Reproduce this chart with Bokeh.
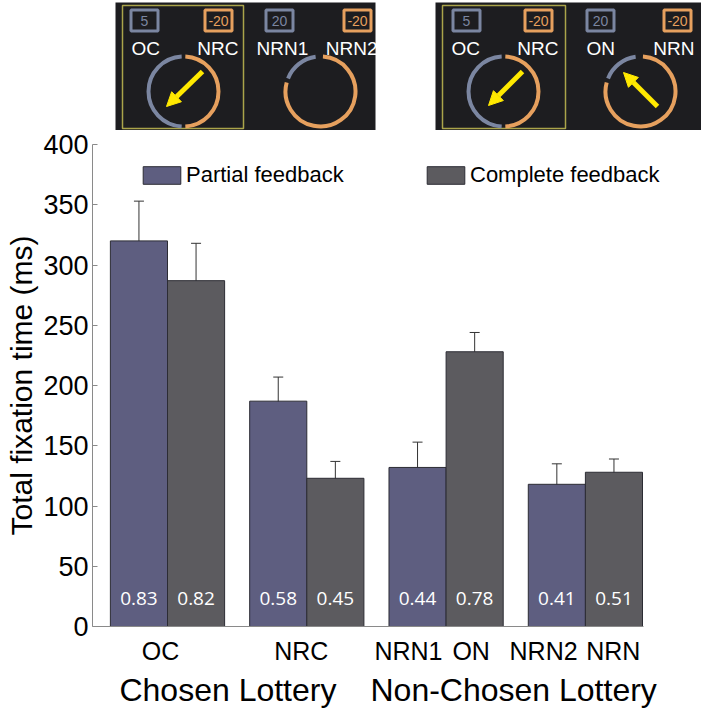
import math
from bokeh.plotting import figure
from bokeh.models import (Range1d, FixedTicker, Legend, LegendItem, LinearAxis,
                          Whisker, ColumnDataSource, Arrow, NormalHead, TeeHead)
from bokeh.layouts import column
from bokeh.embed import file_html
from bokeh.resources import INLINE
from bokeh.core.properties import value

# ---------------- data ----------------
groups = [1, 2, 3, 4]
partial = [320, 187, 132, 118]
partial_err = [33, 20, 21, 17]
complete = [287, 123, 228, 128]
complete_err = [31, 14, 16, 11]
partial_props = ["0.83", "0.58", "0.44", "0.41"]
complete_props = ["0.82", "0.45", "0.78", "0.51"]
tick_labels = ["OC", "NRC", "NRN1", "ON", "NRN2", "NRN"]
group_labels = ["Chosen Lottery", "Non-Chosen Lottery"]
series_names = ["Partial feedback", "Complete feedback"]
y_ticks = [0, 50, 100, 150, 200, 250, 300, 350, 400]

# ---------------- styles ----------------
FONT = "Liberation Sans"
C_PART = "#5e5e80"
C_COMP = "#5c5b5f"
C_EDGE = "#2c2c34"
BW = 0.41
OFF = BW / 2
LEFT = 92
FW = 609          # frame width in px
TOPH = 130        # inset strip height

# ================= inset figure (illustration) =================
t = figure(frame_width=FW, frame_height=TOPH, x_range=Range1d(LEFT, LEFT + FW),
           y_range=Range1d(-TOPH, 0),
           output_backend="svg", toolbar_location=None, min_border=0,
           min_border_left=LEFT, min_border_right=0,
           x_axis_location=None, y_axis_location=None, outline_line_color=None)
t.xgrid.visible = False
t.ygrid.visible = False

DARK = "#1d1d20"
BLUE = "#7b86a1"
ORNG = "#e6a05e"
YEL = "#ffe900"
OLIVE = "#aaa44a"

t.quad(left=[115, 435], right=[375, 709], top=[-2, -2], bottom=[-140, -140],
       fill_color=DARK, line_color=None)
t.quad(left=[122, 442], right=[243, 565], top=[-5, -5], bottom=[-128, -128],
       fill_alpha=0, line_color=OLIVE, line_width=1.5)

box_x_blue = [144, 279, 466, 600]
box_x_orng = [218, 357, 538, 677]
box_txt_blue = ["5", "20", "5", "20"]
box_txt_orng = ["-20", "-20", "-20", "-20"]
t.rect(x=box_x_blue, y=-20, width=27, height=21, fill_color=None, line_color=BLUE, line_width=3)
t.rect(x=box_x_orng, y=-20, width=27, height=21, fill_color=None, line_color=ORNG, line_width=3)
t.text(x=box_x_blue, y=-20, text=box_txt_blue, text_color=BLUE, text_font=value(FONT),
       text_font_size="14px", text_align="center", text_baseline="middle")
t.text(x=box_x_orng, y=-20, text=box_txt_orng, text_color=ORNG, text_font=value(FONT),
       text_font_size="14px", text_align="center", text_baseline="middle")

left_names = ["OC", "NRN1", "OC", "ON"]
right_names = ["NRC", "NRN2", "NRC", "NRN"]
t.text(x=[131, 256, 451, 586], y=-48, text=left_names, text_color="white",
       text_font=value(FONT), text_font_size="19px", text_align="left", text_baseline="middle")
t.text(x=[238, 377, 558, 694], y=-48, text=right_names, text_color="white",
       text_font=value(FONT), text_font_size="19px", text_align="right", text_baseline="middle")

d = math.pi / 180
for cx in (183, 503):
    t.arc(x=cx, y=-91, radius=35, start_angle=93 * d, end_angle=267 * d,
          line_color=BLUE, line_width=4)
    t.arc(x=cx, y=-91, radius=35, start_angle=-87 * d, end_angle=87 * d,
          line_color=ORNG, line_width=4)
for cx in (320, 640):
    t.arc(x=cx, y=-91, radius=35, start_angle=98 * d, end_angle=158 * d,
          line_color=BLUE, line_width=4)
    t.arc(x=cx, y=-91, radius=35, start_angle=165 * d, end_angle=446 * d,
          line_color=ORNG, line_width=4)

arrows = [((202, -71), (166, -106)), ((522, -71), (488, -105)), ((657, -106), (623, -72))]
for (xa, ya), (xb, yb) in arrows:
    t.add_layout(Arrow(end=NormalHead(size=14, fill_color=YEL, line_color=YEL, line_width=1),
                       x_start=xa, y_start=ya, x_end=xb, y_end=yb,
                       line_color=YEL, line_width=5))

# ================= main bar chart =================
PX = 139.3                      # pixels per group unit
x0 = 1 - (167 - LEFT) / PX
p = figure(frame_width=FW, frame_height=482, x_range=Range1d(x0, x0 + FW / PX),
           y_range=Range1d(0, 400),
           output_backend="svg", toolbar_location=None,
           min_border_left=LEFT, min_border_right=0, min_border_top=14, min_border_bottom=0)
p.outline_line_color = None
p.xgrid.visible = False
p.ygrid.visible = False

xp = [g - OFF for g in groups]
xc = [g + OFF for g in groups]
r1 = p.vbar(x=xp, top=partial, width=BW, fill_color=C_PART, line_color=C_EDGE, line_width=1)
r2 = p.vbar(x=xc, top=complete, width=BW, fill_color=C_COMP, line_color=C_EDGE, line_width=1)

src_e = ColumnDataSource(dict(
    x=xp + xc,
    upper=[v + e for v, e in zip(partial + complete, partial_err + complete_err)],
    lower=[v - e for v, e in zip(partial + complete, partial_err + complete_err)]))
p.add_layout(Whisker(source=src_e, base="x", upper="upper", lower="lower",
                     line_color="#333333", line_width=1,
                     upper_head=TeeHead(size=10, line_color="#333333", line_width=1),
                     lower_head=TeeHead(size=10, line_color="#333333", line_width=1)))

p.text(x=xp + xc, y=23, text=partial_props + complete_props, text_color="white",
       text_font=value("Open Sans"), text_font_size="19px",
       text_align="center", text_baseline="middle")

# y axis
ya = p.yaxis[0]
ya.ticker = FixedTicker(ticks=y_ticks)
ya.major_tick_in = 5
ya.major_tick_out = 0
ya.minor_tick_line_color = None
ya.axis_line_color = "#8a8a8a"
ya.major_tick_line_color = "#8a8a8a"
ya.major_label_text_font = FONT
ya.major_label_text_font_size = "27px"
ya.major_label_text_color = "black"
ya.major_label_standoff = 4
ya.axis_label = "Total fixation time (ms)"
ya.axis_label_text_font = FONT
ya.axis_label_text_font_size = "30px"
ya.axis_label_text_font_style = "normal"
ya.axis_label_text_color = "black"
ya.axis_label_standoff = 2

# x axis (item labels)
tick_pos = [1 - 0.05, 2 - 0.04, 3 - 0.27, 3 + 0.18, 4 - 0.3, 4 + 0.2]
xa = p.xaxis[0]
xa.ticker = FixedTicker(ticks=tick_pos)
xa.major_label_overrides = {tp: lab for tp, lab in zip(tick_pos, tick_labels)}
xa.major_tick_line_color = None
xa.major_tick_out = 0
xa.major_tick_in = 0
xa.minor_tick_line_color = None
xa.axis_line_color = "#8a8a8a"
xa.bounds = (x0, 4 + 58 / PX)
xa.major_label_text_font = FONT
xa.major_label_text_font_size = "25px"
xa.major_label_text_color = "black"
xa.major_label_standoff = 10

# second x axis (group labels)
grp_pos = [1.434, 3.485]
ga = LinearAxis(ticker=FixedTicker(ticks=grp_pos),
                major_label_overrides={gp: gl for gp, gl in zip(grp_pos, group_labels)},
                axis_line_color=None, major_tick_line_color=None, minor_tick_line_color=None,
                major_tick_out=0, major_tick_in=0,
                major_label_text_font=FONT, major_label_text_font_size="32px",
                major_label_text_color="black", major_label_standoff=4)
p.add_layout(ga, "below")

# legends
for r, name, loc in [(r1, series_names[0], (46, 438)), (r2, series_names[1], (330, 438))]:
    lg = Legend(items=[LegendItem(label=name, renderers=[r])], location=loc,
                glyph_width=47, glyph_height=22, label_height=18, label_standoff=1,
                label_text_font=FONT, label_text_font_size="22px", label_text_color="black",
                padding=0, margin=0, border_line_alpha=0, background_fill_alpha=0)
    p.add_layout(lg)

layout = column(t, p, spacing=0)
open("out.html", "w").write(file_html(layout, INLINE))
